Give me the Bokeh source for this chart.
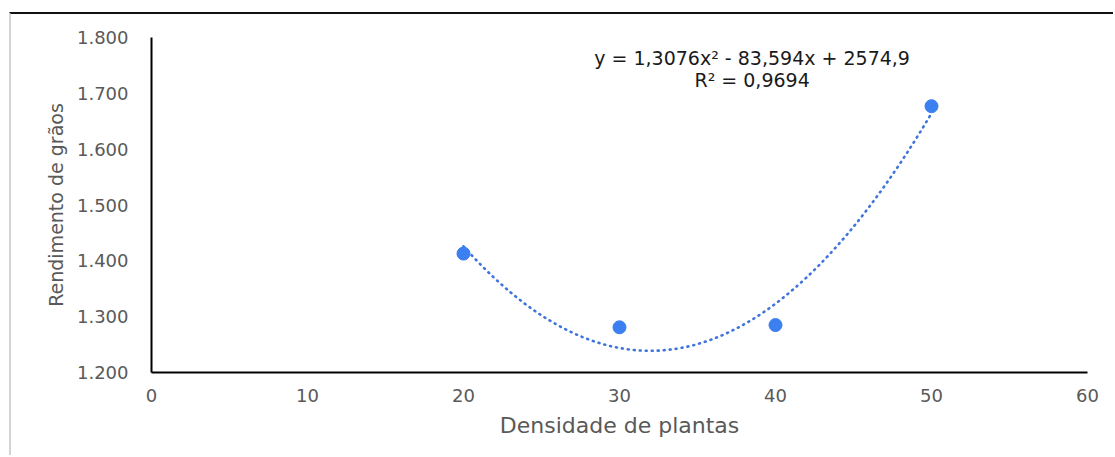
import numpy as np
from bokeh.plotting import figure
from bokeh.models import FixedTicker, Label
from bokeh.embed import file_html
from bokeh.resources import INLINE

# Observed grain yield per plant density
densidade = [20, 30, 40, 50]
rendimento = [1413, 1281, 1285, 1677]

# Quadratic trendline coefficients (y = a*x^2 + b*x + c)
coef_a = 1.3076
coef_b = -83.594
coef_c = 2574.9
r2_text = "R² = 0,9694"
eq_text = "y = 1,3076x² - 83,594x + 2574,9"

x_ticks = [0, 10, 20, 30, 40, 50, 60]
y_ticks = [1200, 1300, 1400, 1500, 1600, 1700, 1800]
y_tick_labels = ["1.200", "1.300", "1.400", "1.500", "1.600", "1.700", "1.800"]

FONT = "DejaVu Sans"
GRAY = "#595959"
BLUE = "#3b7ff0"
TREND = "#3f74dc"

p = figure(width=1104, height=443, x_range=(0, 60), y_range=(1200, 1800),
           output_backend="svg", toolbar_location=None,
           min_border_left=140, min_border_right=28,
           min_border_top=23, min_border_bottom=85)
# Page frame: dark top rule and light left rule around the chart
p.margin = (12, 0, 0, 9)
p.styles = {"border-top": "2px solid #111111", "border-left": "2px solid #d4d4d4"}
p.outline_line_color = None
p.background_fill_color = "white"
p.border_fill_color = "white"
p.xgrid.visible = False
p.ygrid.visible = False

for ax in (p.xaxis[0], p.yaxis[0]):
    ax.axis_line_color = "black"
    ax.axis_line_width = 2
    ax.major_tick_line_color = None
    ax.minor_tick_line_color = None
    ax.major_label_text_font = FONT
    ax.major_label_text_font_size = "18px"
    ax.major_label_text_color = GRAY
    ax.axis_label_text_font = FONT
    ax.axis_label_text_font_style = "normal"
    ax.axis_label_text_color = GRAY

p.xaxis.axis_label_text_font_size = "22px"
p.yaxis.axis_label_text_font_size = "19px"
p.xaxis.ticker = FixedTicker(ticks=x_ticks)
p.yaxis.ticker = FixedTicker(ticks=y_ticks)
p.yaxis.major_label_overrides = {t: s for t, s in zip(y_ticks, y_tick_labels)}
p.xaxis.major_label_standoff = 10
p.yaxis.major_label_standoff = 17
p.xaxis.axis_label_standoff = 8
p.yaxis.axis_label_standoff = 7
p.xaxis.axis_label = "Densidade de plantas"
p.yaxis.axis_label = "Rendimento de grãos"

# Trendline evaluated from the fitted polynomial over the observed range
xs = np.linspace(min(densidade), max(densidade), 200)
ys = coef_a * xs ** 2 + coef_b * xs + coef_c
p.line(xs, ys, line_color=TREND, line_width=2.6, line_dash="1 5", line_cap="round")

p.scatter(densidade, rendimento, size=13, fill_color=BLUE, line_color=BLUE)

p.add_layout(Label(x=38.5, y=1764, text=eq_text, text_align="center",
                   text_baseline="middle", text_font=FONT, text_font_size="19px",
                   text_color="#1a1a1a"))
p.add_layout(Label(x=38.5, y=1724, text=r2_text, text_align="center",
                   text_baseline="middle", text_font=FONT, text_font_size="19px",
                   text_color="#1a1a1a"))

open("out.html", "w").write(file_html(p, INLINE))
